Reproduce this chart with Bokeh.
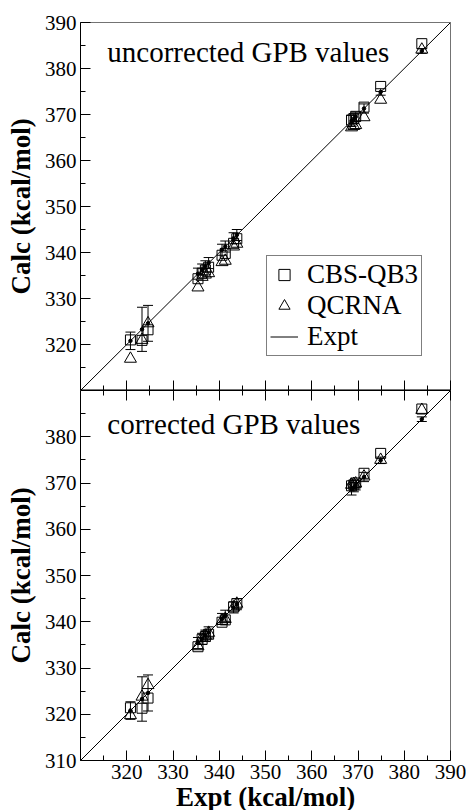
from bokeh.plotting import figure
from bokeh.layouts import column
from bokeh.models import (ColumnDataSource, Whisker, TeeHead, FixedTicker, Legend,
                          LegendItem, Label, Range1d, LinearAxis)
from bokeh.embed import file_html
from bokeh.resources import INLINE

FONT = "'Liberation Serif', 'Times New Roman', serif"

# ---- data (kcal/mol) ----
expt = [320.8, 323.3, 324.6, 335.4, 336.3, 337.0, 337.7, 340.6, 341.3, 343.1, 343.8,
        368.6, 369.1, 369.5, 371.3, 374.9, 383.8]
expt_err = [1.9, 4.8, 3.9, 1.2, 1.2, 1.2, 1.2, 1.2, 1.2, 1.2, 1.2,
            1.2, 1.0, 1.0, 1.0, 0.7, 0.5]
cbs_uncorr = [321.0, 320.9, 323.2, 334.3, 335.5, 336.2, 336.8, 339.4, 339.8, 342.0, 343.0,
              368.8, 369.1, 369.6, 371.6, 376.1, 385.4]
qcrna_uncorr = [316.9, 321.0, 324.6, 332.4, 334.7, 335.2, 335.5, 337.9, 338.2, 341.3, 341.9,
                367.2, 367.5, 367.7, 369.4, 373.2, 384.1]
cbs_corr = [321.4, 321.3, 323.5, 334.6, 336.2, 336.8, 337.3, 339.9, 340.4, 343.2, 343.9,
            369.4, 369.6, 370.0, 372.1, 376.4, 386.0]
qcrna_corr = [319.8, 323.8, 326.3, 334.7, 336.6, 337.0, 337.6, 340.2, 340.6, 343.1, 343.9,
              369.6, 369.8, 369.9, 371.4, 375.0, 385.8]
diag = [310, 390]

x_major = [320, 330, 340, 350, 360, 370, 380, 390]
x_minor = [315, 325, 335, 345, 355, 365, 375, 385]
y_top_major = [320, 330, 340, 350, 360, 370, 380, 390]
y_bot_major = [310, 320, 330, 340, 350, 360, 370, 380]
y_minor = [315, 325, 335, 345, 355, 365, 375, 385]
panel_titles = ["uncorrected GPB values", "corrected GPB values"]


def style_axis(ax, labels=True):
    ax.axis_line_color = "black"
    ax.major_tick_line_color = "black"
    ax.minor_tick_line_color = "black"
    ax.major_tick_in = 10
    ax.major_tick_out = 0
    ax.minor_tick_in = 5
    ax.minor_tick_out = 0
    ax.major_label_text_font = FONT
    ax.major_label_text_color = "black"
    ax.axis_label_text_font = FONT
    ax.axis_label_text_font_style = "bold"
    ax.axis_label_text_font_size = "27px"
    ax.axis_label_text_color = "black"
    if labels:
        ax.major_label_text_font_size = "21px"
        ax.major_label_standoff = 4
    else:
        ax.major_label_overrides = {t: "" for t in x_major}
        ax.major_label_text_font_size = "1px"
        ax.major_label_standoff = 0


def make_panel(cbs, qcr, title, top):
    p = figure(frame_width=370, frame_height=368 if top else 370,
               x_range=Range1d(310, 390), y_range=Range1d(310, 390),
               output_backend="svg", toolbar_location=None,
               min_border_left=80, min_border_right=16,
               min_border_top=22 if top else 0, min_border_bottom=0)
    p.grid.visible = False
    p.outline_line_color = "black"
    p.outline_line_alpha = 0.55
    p.background_fill_color = "white"
    p.border_fill_color = "white"

    # y axis
    yax = p.yaxis[0]
    yax.ticker = FixedTicker(ticks=y_top_major if top else y_bot_major, minor_ticks=y_minor)
    style_axis(yax)
    yax.axis_label = "Calc (kcal/mol)"
    yax.axis_label_standoff = 6

    # x axis
    xax = p.xaxis[0]
    xax.ticker = FixedTicker(ticks=x_major, minor_ticks=x_minor)
    style_axis(xax, labels=not top)
    if not top:
        xax.axis_label = "Expt (kcal/mol)"
        xax.axis_label_standoff = 0
        above = LinearAxis(ticker=FixedTicker(ticks=x_major, minor_ticks=x_minor))
        style_axis(above, labels=False)
        p.add_layout(above, "above")

    src = ColumnDataSource(dict(x=expt,
                                lo=[e - d for e, d in zip(expt, expt_err)],
                                hi=[e + d for e, d in zip(expt, expt_err)]))

    r_sq = p.scatter(expt, cbs, marker="square", size=10, fill_color=None,
                     line_color="black", line_width=1)
    r_tri = p.scatter(expt, qcr, marker="triangle", size=12, fill_color=None,
                      line_color="black", line_width=1)
    wh = Whisker(source=src, base="x", lower="lo", upper="hi", dimension="height",
                 line_color="black", line_width=1,
                 upper_head=TeeHead(size=10, line_color="black", line_width=1),
                 lower_head=TeeHead(size=10, line_color="black", line_width=1))
    p.add_layout(wh)
    p.scatter(expt, expt, size=3.5, color="black")
    r_line = p.line(diag, diag, line_color="black", line_width=1)

    p.add_layout(Label(x=315.8, y=383.5 if top else 382.8, text=title, text_font=FONT,
                       text_font_size="29px", text_color="black",
                       text_baseline="alphabetic"))

    if top:
        leg = Legend(items=[LegendItem(label="CBS-QB3", renderers=[r_sq]),
                            LegendItem(label="QCRNA", renderers=[r_tri]),
                            LegendItem(label="Expt", renderers=[r_line])],
                     location=(186, 34), orientation="vertical",
                     label_text_font=FONT, label_text_font_size="27px",
                     label_text_color="black",
                     glyph_width=28, glyph_height=29, label_height=29,
                     spacing=0, padding=3, margin=0, label_standoff=9,
                     border_line_color="black", border_line_width=1,
                     background_fill_color="white", background_fill_alpha=1)
        p.add_layout(leg, "center")
    return p


p_top = make_panel(cbs_uncorr, qcrna_uncorr, panel_titles[0], True)
p_bot = make_panel(cbs_corr, qcrna_corr, panel_titles[1], False)

p = column(p_top, p_bot, spacing=0)
open("out.html", "w").write(file_html(p, INLINE))
